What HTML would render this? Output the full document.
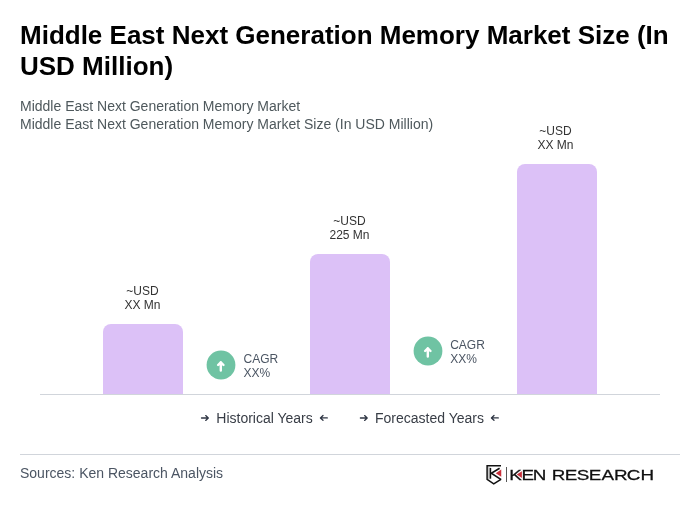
<!DOCTYPE html>
<html><head><meta charset="utf-8">
<style>
html,body{margin:0;padding:0;background:#fff;}
body{width:700px;height:520px;position:relative;overflow:hidden;font-family:"Liberation Sans",Arial,sans-serif;color:#111;}
.title{position:absolute;left:20px;top:20px;width:670px;font-size:26px;font-weight:700;line-height:31px;color:#000;margin:0;}
.sub{position:absolute;left:20px;top:97px;font-size:14px;line-height:18px;color:#4e585c;}
.bar{position:absolute;width:80px;background:#dcc1f7;border-radius:8px 8px 0 0;}
.axis{position:absolute;left:40px;top:394px;width:620px;height:1px;background:#d1d5db;}
.lbl{position:absolute;width:120px;text-align:center;font-size:12px;line-height:14px;color:#333;}
.cagr{position:absolute;font-size:12px;line-height:14px;color:#4b5563;}
.circ{position:absolute;width:29px;height:29px;border-radius:50%;background:#6fc3a3;}
.leg{position:absolute;top:410px;font-size:14px;line-height:16px;color:#383d46;white-space:nowrap;}
.hr{position:absolute;left:20px;top:454px;width:660px;height:1px;background:#d1d5db;}
.src{position:absolute;left:20px;top:465px;font-size:14px;line-height:16px;color:#4b5563;}
</style></head><body>
<h1 class="title">Middle East Next Generation Memory Market Size (In USD Million)</h1>
<div class="sub">Middle East Next Generation Memory Market<br>Middle East Next Generation Memory Market Size (In USD Million)</div>

<div class="bar" style="left:103px;top:324px;height:70px"></div>
<div class="bar" style="left:310px;top:254px;height:140px"></div>
<div class="bar" style="left:517px;top:164px;height:230px"></div>
<div class="axis"></div>

<div class="lbl" style="left:82.5px;top:284px">~USD<br>XX Mn</div>
<div class="lbl" style="left:289.5px;top:214px">~USD<br>225 Mn</div>
<div class="lbl" style="left:495.5px;top:124px">~USD<br>XX Mn</div>

<div class="cagr" style="left:243.5px;top:352px">CAGR<br>XX%</div>
<div class="cagr" style="left:450.2px;top:338px">CAGR<br>XX%</div>

<div class="leg" style="left:216.3px">Historical Years</div>
<div class="leg" style="left:375px">Forecasted Years</div>

<svg class="ar" style="position:absolute;left:0;top:0" width="700" height="520" viewBox="0 0 700 520">
<g fill="none" stroke="#2f3644" stroke-width="1.3" stroke-linecap="round" stroke-linejoin="round">
<path d="M201.5 418H208.2M205.7 415.6l2.6 2.4-2.6 2.4"/>
<path d="M327.3 417.9H320.5M323 415.5l-2.6 2.4 2.6 2.4"/>
<path d="M360.4 418H367.1M364.6 415.6l2.6 2.4-2.6 2.4"/>
<path d="M498.3 417.9H491.5M494 415.5l-2.6 2.4 2.6 2.4"/>
</g>
<circle cx="221" cy="365" r="14.4" fill="#6fc3a3"/><path d="M220.80 370.60V362.30M218.10 365.00l2.7-2.7 2.7 2.7" fill="none" stroke="#fff" stroke-width="2.4" stroke-linecap="round" stroke-linejoin="round"/>
<circle cx="428" cy="351" r="14.4" fill="#6fc3a3"/><path d="M427.80 356.60V348.30M425.10 351.00l2.7-2.7 2.7 2.7" fill="none" stroke="#fff" stroke-width="2.4" stroke-linecap="round" stroke-linejoin="round"/>
<!-- logo -->
<g fill="none" stroke="#111" stroke-width="1.5" stroke-linejoin="miter">
<path d="M501 465.85H487.1V479.4L493.75 483.9L500.9 479.3"/>
<path d="M499.6 468.2L491.3 473.2L501.2 479.6" stroke-width="1.6"/>
<path d="M490.4 467.9V478.7" stroke-width="1.6"/>
<path d="M488.85 466.6V479.6" stroke-width="0.45" stroke="#444"/>
</g>
<path d="M495.75 473.25L501.25 469.5V476.75Z" fill="#c9303b"/>
<path d="M506.5 467V482" stroke="#444" stroke-width="0.9"/>
<g transform="translate(0,480)"><text transform="scale(1.3,1)" font-family="Liberation Sans, Arial, sans-serif" font-size="14.5" fill="#111" stroke="#111" stroke-width="0.25" x="391.69 401.15 409.80 421.54 424.51 434.34 443.71 452.92 462.63 472.31 482.13 492.76" y="0">KEN RESEARCH</text></g>
<path d="M516.8 474.6L521.9 471.3V477.9Z" fill="#c9303b"/>
</svg>
<div class="hr"></div>
<div class="src">Sources: Ken Research Analysis</div>
</body></html>
